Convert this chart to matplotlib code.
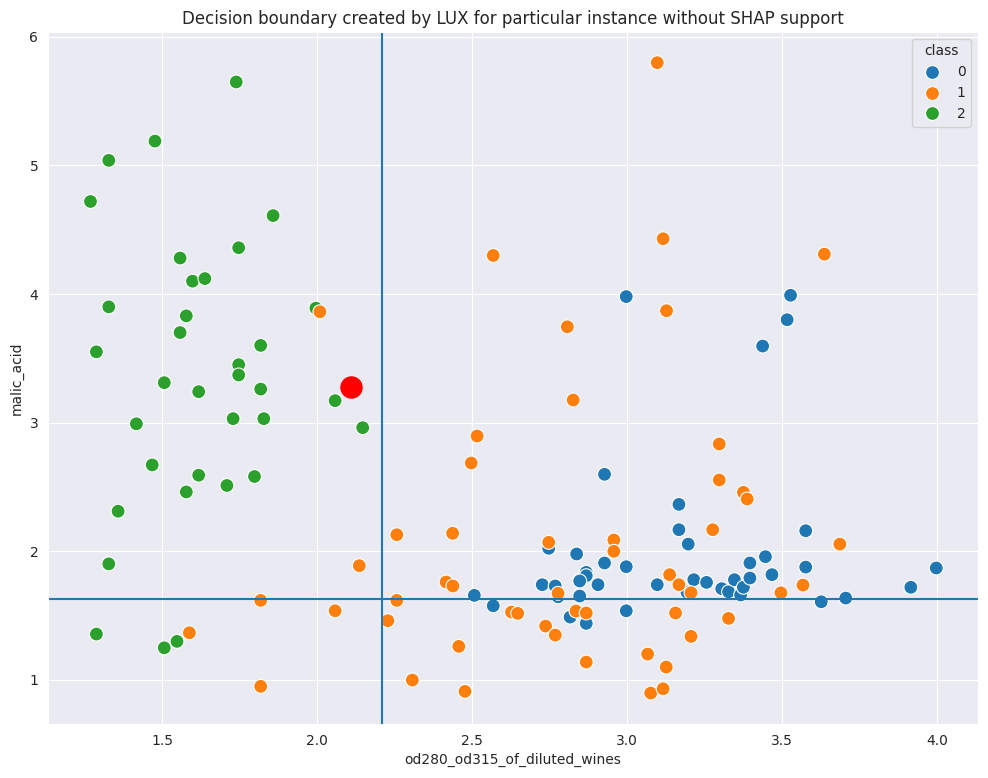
import matplotlib
matplotlib.use("Agg")
import matplotlib.pyplot as plt
import seaborn as sns
import pandas as pd

# class 0
x0 = [2.997, 3.527, 3.516, 3.437, 2.747, 2.726, 2.768, 2.777, 2.507, 2.568, 2.816,
      2.927, 3.167, 3.167, 3.197, 2.837, 2.927, 2.997, 2.868, 2.868, 2.847, 2.906,
      2.847, 3.215, 3.256, 3.193, 3.097, 3.305, 3.327, 3.346, 3.366, 3.375, 3.396,
      3.396, 3.446, 2.868, 2.997, 3.576, 3.576, 3.467, 3.626, 3.705, 3.915, 3.997]
y0 = [3.98, 3.99, 3.80, 3.595, 2.021, 1.738, 1.728, 1.644, 1.655, 1.574, 1.486,
      2.597, 2.363, 2.166, 2.054, 1.977, 1.907, 1.878, 1.834, 1.808, 1.767, 1.738,
      1.650, 1.777, 1.756, 1.68, 1.738, 1.707, 1.683, 1.777, 1.658, 1.718, 1.790,
      1.907, 1.956, 1.437, 1.535, 2.158, 1.875, 1.816, 1.605, 1.634, 1.718, 1.868]

# class 1
x1 = [2.009, 2.136, 1.818, 2.058, 1.588, 1.818, 3.097, 3.116, 2.568, 3.127, 2.807,
      3.636, 2.826, 2.516, 2.497, 2.257, 2.437, 2.747, 2.416, 2.438, 2.777, 2.257,
      2.228, 2.627, 2.647, 2.737, 2.768, 2.457, 2.307, 2.477, 3.297, 3.297, 3.375,
      3.387, 3.276, 2.957, 2.957, 3.137, 3.167, 3.206, 2.835, 2.868, 3.156, 3.327,
      3.206, 2.868, 3.066, 3.126, 3.076, 3.116, 3.686, 3.496, 3.567]
y1 = [3.862, 1.886, 1.616, 1.535, 1.364, 0.947, 5.80, 4.43, 4.30, 3.87, 3.745,
      4.31, 3.175, 2.895, 2.685, 2.127, 2.138, 2.068, 1.759, 1.728, 1.671, 1.616,
      1.458, 1.525, 1.515, 1.416, 1.346, 1.258, 0.996, 0.908, 2.833, 2.553, 2.457,
      2.405, 2.166, 2.086, 1.998, 1.816, 1.738, 1.675, 1.533, 1.518, 1.518, 1.476,
      1.336, 1.136, 1.198, 1.097, 0.895, 0.928, 2.054, 1.675, 1.735]

# class 2
x2 = [1.739, 1.477, 1.328, 1.269, 1.858, 1.747, 1.558, 1.598, 1.638, 1.328, 1.578,
      1.558, 1.288, 1.818, 1.747, 1.747, 1.507, 1.618, 1.818, 1.996, 2.058, 1.417,
      1.729, 1.828, 2.147, 1.468, 1.618, 1.578, 1.709, 1.798, 1.358, 1.328, 1.288,
      1.507, 1.548]
y2 = [5.65, 5.19, 5.04, 4.72, 4.61, 4.36, 4.28, 4.10, 4.12, 3.90, 3.83,
      3.70, 3.55, 3.60, 3.45, 3.37, 3.31, 3.24, 3.26, 3.89, 3.17, 2.99,
      3.03, 3.03, 2.96, 2.67, 2.59, 2.46, 2.51, 2.58, 2.31, 1.90, 1.354,
      1.247, 1.297]

instance_x = [2.11]
instance_y = [3.276]
boundary_x = 2.21
boundary_y = 1.626

# draw order: classes 0 and 2 first, class 1 on top (as in the reference)
df = pd.DataFrame({
    "od280_od315_of_diluted_wines": x0 + x2 + x1,
    "malic_acid": y0 + y2 + y1,
    "class": [0] * len(x0) + [2] * len(x2) + [1] * len(x1),
})

sns.set_style("darkgrid")
fig = plt.figure(figsize=(9.88, 7.78), dpi=100)
ax = fig.add_axes([0.0486, 0.0694, 0.9414, 0.8895])
sns.scatterplot(data=df, x="od280_od315_of_diluted_wines", y="malic_acid",
                hue="class", hue_order=[0, 1, 2], palette="tab10", s=100, ax=ax)
ax.scatter(instance_x, instance_y, color="red", s=230, zorder=5)
ax.axvline(boundary_x, color="tab:blue", lw=1.5)
ax.axhline(boundary_y, color="tab:blue", lw=1.5)
ax.set_xlim(1.132, 4.132)
ax.set_ylim(0.654, 6.039)
ax.set_title("Decision boundary created by LUX for particular instance without SHAP support")
ax.legend(title="class", loc="upper right")
fig.savefig("out.png", dpi=100)
